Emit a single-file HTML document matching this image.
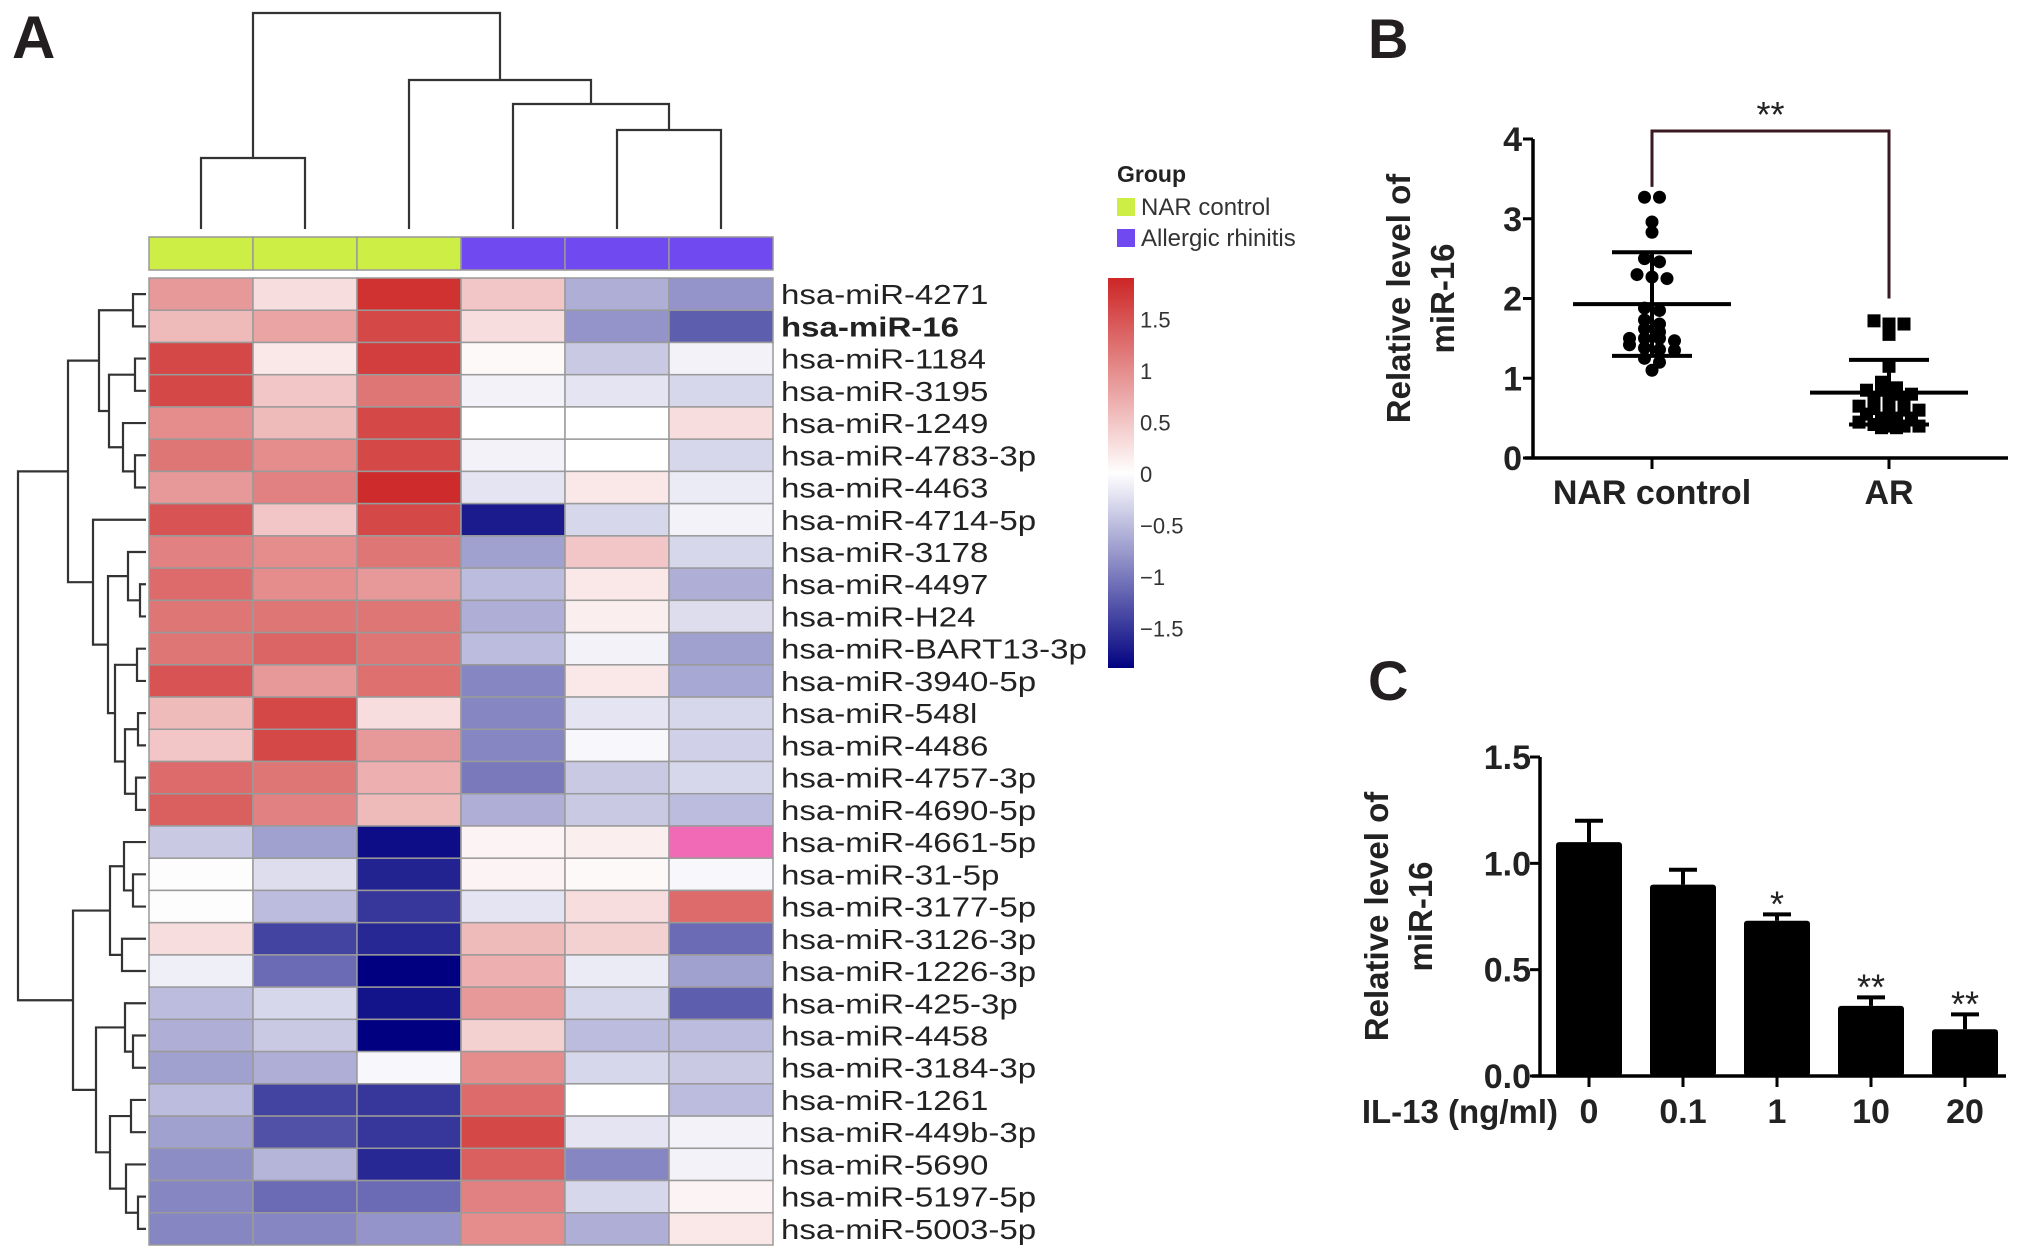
<!DOCTYPE html>
<html><head><meta charset="utf-8"><style>
html,body{margin:0;padding:0;background:#fff;}
svg{display:block;font-family:"Liberation Sans",Arial,sans-serif;}
</style></head><body>
<svg id="fig" width="2031" height="1259" viewBox="0 0 2031 1259" xmlns="http://www.w3.org/2000/svg">
<g id="gA"></g>
<g id="gB"></g>
<g id="gC"></g>
</svg>
<script>
// ---------- Panel A data ----------
const rowLabels = ["hsa-miR-4271","hsa-miR-16","hsa-miR-1184","hsa-miR-3195","hsa-miR-1249","hsa-miR-4783-3p","hsa-miR-4463","hsa-miR-4714-5p","hsa-miR-3178","hsa-miR-4497","hsa-miR-H24","hsa-miR-BART13-3p","hsa-miR-3940-5p","hsa-miR-548l","hsa-miR-4486","hsa-miR-4757-3p","hsa-miR-4690-5p","hsa-miR-4661-5p","hsa-miR-31-5p","hsa-miR-3177-5p","hsa-miR-3126-3p","hsa-miR-1226-3p","hsa-miR-425-3p","hsa-miR-4458","hsa-miR-3184-3p","hsa-miR-1261","hsa-miR-449b-3p","hsa-miR-5690","hsa-miR-5197-5p","hsa-miR-5003-5p"];
const sampleGroups = ["NAR","NAR","NAR","AR","AR","AR"];
const heatValues = [
[0.9,0.3,1.8,0.5,-0.6,-0.8],
[0.6,0.8,1.6,0.3,-0.8,-1.2],
[1.6,0.2,1.7,0.05,-0.4,-0.1],
[1.6,0.5,1.2,-0.1,-0.2,-0.3],
[1.0,0.6,1.6,0.0,0.0,0.3],
[1.2,1.0,1.6,-0.1,0.0,-0.3],
[0.9,1.1,1.85,-0.2,0.2,-0.15],
[1.5,0.5,1.6,-1.7,-0.3,-0.1],
[1.1,1.0,1.2,-0.7,0.5,-0.3],
[1.3,1.0,0.9,-0.5,0.2,-0.6],
[1.2,1.2,1.2,-0.6,0.15,-0.25],
[1.2,1.35,1.2,-0.5,-0.1,-0.7],
[1.5,0.9,1.25,-0.9,0.2,-0.65],
[0.6,1.6,0.3,-0.9,-0.2,-0.3],
[0.5,1.6,0.9,-0.9,-0.05,-0.35],
[1.3,1.2,0.7,-1.0,-0.4,-0.3],
[1.4,1.1,0.6,-0.6,-0.4,-0.5],
[-0.4,-0.7,-1.8,0.1,0.15,2.5],
[0.02,-0.25,-1.65,0.1,0.05,-0.05],
[0.02,-0.5,-1.5,-0.2,0.3,1.3],
[0.3,-1.4,-1.6,0.6,0.4,-1.1],
[-0.12,-1.1,-1.9,0.7,-0.15,-0.7],
[-0.5,-0.3,-1.75,0.9,-0.3,-1.2],
[-0.6,-0.4,-1.9,0.4,-0.5,-0.5],
[-0.7,-0.6,-0.05,1.0,-0.3,-0.4],
[-0.5,-1.4,-1.5,1.3,0.0,-0.5],
[-0.7,-1.3,-1.5,1.6,-0.2,-0.1],
[-0.85,-0.55,-1.6,1.4,-0.9,-0.1],
[-0.9,-1.1,-1.1,1.1,-0.3,0.1],
[-0.9,-0.9,-0.8,1.0,-0.6,0.2]];
const scaleTicks = [1.5,1,0.5,0,-0.5,-1,-1.5];
const scaleTickLabels = ["1.5","1","0.5","0","\u22120.5","\u22121","\u22121.5"];

// ---------- Panel B data ----------
const groupsB = ["NAR control","AR"];
const narValues = [3.27,3.27,2.96,2.83,2.5,2.46,2.3,2.25,2.27,1.88,1.85,1.73,1.68,1.62,1.5,1.5,1.5,1.47,1.42,1.38,1.36,1.35,1.25,1.2,1.1,1.58];
const arValues = [1.68,1.68,1.72,1.55,1.15,0.95,0.88,0.85,0.85,0.8,0.8,0.75,0.72,0.72,0.65,0.62,0.62,0.6,0.6,0.55,0.5,0.5,0.5,0.45,0.42,0.4,0.4,0.4,0.38,0.38];
const meanB = [1.93,0.82];
const sdUpperB = [2.58,1.23];
const sdLowerB = [1.28,0.42];
const yTicksB = [0,1,2,3,4];

// ---------- Panel C data ----------
const doseLabels = ["0","0.1","1","10","20"];
const barValues = [1.1,0.9,0.73,0.33,0.22];
const errValues = [0.1,0.07,0.03,0.04,0.07];
const sigLabels = ["","","*","**","**"];
const yTicksC = [0,0.5,1.0,1.5];
const yTickLabelsC = ["0.0","0.5","1.0","1.5"];

const NS="http://www.w3.org/2000/svg";
function mk(parent,tag,attrs,text){const e=document.createElementNS(NS,tag);for(const k in attrs)e.setAttribute(k,attrs[k]);if(text!==undefined)e.textContent=text;parent.appendChild(e);return e;}

// ================= Panel A =================
const gA=document.getElementById('gA');
const hmX0=149,hmX1=773,hmY0=278,hmY1=1245;
const colW=(hmX1-hmX0)/sampleGroups.length, rowH=(hmY1-hmY0)/rowLabels.length;
function colX(j){return hmX0+j*colW;}
function rowY(i){return hmY0+i*rowH;}
function lerp(a,b,t){return Math.round(a+(b-a)*t);}
function heatColor(v){
  if(v>1.95) return "#f06ab6";
  const m=1.9;let t=Math.max(-1,Math.min(1,v/m));
  if(t>=0) return `rgb(${lerp(255,205,t)},${lerp(255,38,t)},${lerp(255,38,t)})`;
  t=-t;return `rgb(${lerp(255,0,t)},${lerp(255,0,t)},${lerp(255,128,t)})`;
}
let t=mk(gA,'text',{x:12,y:58,'font-size':60,'font-weight':'bold',fill:'#231f20'},'A');



sampleGroups.forEach((g,j)=>{
  const r=mk(gA,'rect',{x:colX(j),y:237,width:colW,height:33,fill:g==="NAR"?"#cdef45":"#7049f0",stroke:'#999',"stroke-width":1.5});
  
  
});
heatValues.forEach((row,i)=>row.forEach((v,j)=>{
  const r=mk(gA,'rect',{x:colX(j),y:rowY(i),width:colW,height:rowH,fill:heatColor(v),stroke:'#9a9a9a',"stroke-width":1.5});
  
  
}));
rowLabels.forEach((lab,i)=>{
  const e=mk(gA,'text',{transform:`translate(781,${rowY(i)+rowH/2+10}) scale(1.18,1)`,'font-size':28,fill:'#222','font-weight':lab==="hsa-miR-16"?'bold':'normal'},lab);
  
  
});
const topTree={l:{l:0,r:1,y:158},r:{l:2,r:{l:3,r:{l:4,r:5,y:130},y:104},y:80},y:13};
const leafTop=229;
function drawTop(n){
  if(typeof n==="number") return {x:colX(n)+colW/2,y:leafTop};
  const a=drawTop(n.l),b=drawTop(n.r);
  const p=mk(gA,'path',{d:`M${a.x},${a.y}V${n.y}H${b.x}V${b.y}`,fill:'none',stroke:'#333','stroke-width':2.2});
  
  
  return {x:(a.x+b.x)/2,y:n.y};
}
drawTop(topTree);
const clusterA={l:{l:0,r:1,x:133},r:{l:{l:2,r:3,x:135},r:{l:4,r:{l:5,r:6,x:135},x:123},x:109},x:99};
const clusterB={l:7,r:{l:{l:8,r:{l:9,r:10,x:140},x:128},r:{l:{l:11,r:12,x:137},r:{l:{l:13,r:14,x:138},r:{l:15,r:16,x:136},x:125},x:115},x:108},x:93};
const clusterC={l:{l:{l:17,r:{l:18,r:19,x:133},x:124},r:{l:20,r:21,x:122},x:110},r:{l:{l:22,r:{l:23,r:24,x:133},x:125},r:{l:{l:25,r:26,x:131},r:{l:27,r:{l:28,r:29,x:138},x:126},x:110},x:96},x:73};
const rowTree={l:{l:clusterA,r:clusterB,x:68},r:clusterC,x:18};
function drawRow(n){
  if(typeof n==="number") return {x:146,y:rowY(n)+rowH/2};
  const a=drawRow(n.l),b=drawRow(n.r);
  const p=mk(gA,'path',{d:`M${a.x},${a.y}H${n.x}V${b.y}H${b.x}`,fill:'none',stroke:'#333','stroke-width':2.2});
  
  
  return {x:n.x,y:(a.y+b.y)/2};
}
drawRow(rowTree);
t=mk(gA,'text',{x:1117,y:182,'font-size':23,'font-weight':'bold',fill:'#222'},'Group');


[["NAR control","#cdef45",198],["Allergic rhinitis","#7049f0",229]].forEach(([lab,c,y])=>{
  const r=mk(gA,'rect',{x:1117,y:y,width:18,height:18,fill:c});
  
  
  const e=mk(gA,'text',{x:1141,y:y+17,'font-size':24,fill:'#333'},lab);
  
  
});
const csTop=278,csBot=668,csZero=474,csUnit=103;
const defs=mk(gA,'defs',{});
const lg=mk(defs,'linearGradient',{id:'cs',x1:0,y1:0,x2:0,y2:1});
for(let k=0;k<=20;k++){const y=csTop+(csBot-csTop)*k/20;const v=(csZero-y)/csUnit;mk(lg,'stop',{offset:k/20,'stop-color':heatColor(Math.max(-1.9,Math.min(1.9,v)))});}
const cs=mk(gA,'rect',{x:1108,y:csTop,width:26,height:csBot-csTop,fill:'url(#cs)'});


scaleTicks.forEach((v,k)=>{
  const e=mk(gA,'text',{x:1140,y:csZero-v*csUnit+8,'font-size':22,fill:'#333'},scaleTickLabels[k]);
  
  
});

// ================= Panel B =================
const gB=document.getElementById('gB');
const bAxX=1533,bY0=458,bY4=139,bXEnd=2008;
function yB(v){return bY0-(bY0-bY4)*v/4;}
const bCenters=[1652,1889];
t=mk(gB,'text',{x:1368,y:58,'font-size':56,'font-weight':'bold',fill:'#231f20'},'B');


let ax=mk(gB,'path',{d:`M${bAxX},${bY4}V${bY0}M${bAxX-8},${bY0}H${bXEnd}`,stroke:'#000','stroke-width':3.5,fill:'none'});


yTicksB.forEach(v=>{
  mk(gB,'line',{x1:bAxX-10,x2:bAxX,y1:yB(v),y2:yB(v),stroke:'#000','stroke-width':3});
  const e=mk(gB,'text',{x:bAxX-11,y:yB(v)+12,'font-size':34,'font-weight':'bold','text-anchor':'end',fill:'#222'},String(v));
  
  
});
groupsB.forEach((g,k)=>{
  mk(gB,'line',{x1:bCenters[k],x2:bCenters[k],y1:bY0,y2:bY0+11,stroke:'#000','stroke-width':3});
  const e=mk(gB,'text',{x:bCenters[k],y:504,'font-size':34,'font-weight':'bold','text-anchor':'middle',fill:'#222'},g);
  
  
});
t=mk(gB,'text',{transform:`translate(1410,${(bY0+bY4)/2}) rotate(-90)`,'font-size':33,'font-weight':'bold','text-anchor':'middle',fill:'#222','xml:space':'preserve'},'Relative  level of');


t=mk(gB,'text',{transform:`translate(1454,${(bY0+bY4)/2}) rotate(-90)`,'font-size':33,'font-weight':'bold','text-anchor':'middle',fill:'#222'},'miR-16');


function swarm(vals,cx,shape){
  const sorted=vals.slice().sort((a,b)=>b-a);const rows=[];
  sorted.forEach(v=>{const last=rows[rows.length-1];if(last&&Math.abs(last.v-v)<0.07)last.items.push(v);else rows.push({v:v,items:[v]});});
  rows.forEach(r=>{const n=r.items.length;r.items.forEach((v,i)=>{
    const x=cx+(i-(n-1)/2)*15;
    let m;
    if(shape==="circle") m=mk(gB,'circle',{cx:x,cy:yB(v),r:6.5,fill:'#000'});
    else m=mk(gB,'rect',{x:x-6.5,y:yB(v)-6.5,width:13,height:13,fill:'#000'});
    
    
  });});
}
swarm(narValues,bCenters[0],"circle");
swarm(arValues,bCenters[1],"square");
bCenters.forEach((cx,k)=>{
  const p=mk(gB,'path',{d:`M${cx-79},${yB(meanB[k])}H${cx+79}M${cx},${yB(sdUpperB[k])}V${yB(sdLowerB[k])}M${cx-40},${yB(sdUpperB[k])}H${cx+40}M${cx-40},${yB(sdLowerB[k])}H${cx+40}`,stroke:'#000','stroke-width':4,fill:'none'});
  
  
});
const br=mk(gB,'path',{d:`M${bCenters[0]},${yB(3.4)}V${yB(4.1)}H${bCenters[1]}V${yB(2)}`,stroke:'#3a1a22','stroke-width':3,fill:'none'});


t=mk(gB,'text',{x:(bCenters[0]+bCenters[1])/2,y:yB(4.1)-4,'font-size':36,'text-anchor':'middle',fill:'#222'},'**');



// ================= Panel C =================
const gC=document.getElementById('gC');
const cAxX=1540,cY0=1076,cYTop=757,cXEnd=2006;
function yC(v){return cY0-(cY0-cYTop)*v/1.5;}
function xC(i){return 1589+i*94;}
t=mk(gC,'text',{x:1368,y:700,'font-size':56,'font-weight':'bold',fill:'#231f20'},'C');


barValues.forEach((v,i)=>{
  const b=mk(gC,'rect',{x:xC(i)-33,y:yC(v),width:66,height:cY0-yC(v),fill:'#000',rx:3});
  
  
  const top=yC(v+errValues[i]);
  const e=mk(gC,'path',{d:`M${xC(i)},${yC(v)}V${top}M${xC(i)-14},${top}H${xC(i)+14}`,stroke:'#000','stroke-width':4,fill:'none'});
  
  
  if(sigLabels[i]){
    const s=mk(gC,'text',{x:xC(i),y:top+2,'font-size':36,'text-anchor':'middle',fill:'#222'},sigLabels[i]);
    
    
  }
  mk(gC,'line',{x1:xC(i),x2:xC(i),y1:cY0,y2:cY0+11,stroke:'#000','stroke-width':3});
  const l=mk(gC,'text',{x:xC(i),y:1123,'font-size':34,'font-weight':'bold','text-anchor':'middle',fill:'#222'},doseLabels[i]);
  
  
});
ax=mk(gC,'path',{d:`M${cAxX},${cYTop}V${cY0}M${cAxX-8},${cY0}H${cXEnd}`,stroke:'#000','stroke-width':3.5,fill:'none'});


yTicksC.forEach((v,k)=>{
  mk(gC,'line',{x1:cAxX-10,x2:cAxX,y1:yC(v),y2:yC(v),stroke:'#000','stroke-width':3});
  const e=mk(gC,'text',{x:cAxX-9,y:yC(v)+12,'font-size':34,'font-weight':'bold','text-anchor':'end',fill:'#222'},yTickLabelsC[k]);
  
  
});
t=mk(gC,'text',{x:1558,y:1123,'font-size':33,'font-weight':'bold','text-anchor':'end',fill:'#222'},'IL-13 (ng/ml)');


t=mk(gC,'text',{transform:`translate(1388,${(cY0+cYTop)/2}) rotate(-90)`,'font-size':33,'font-weight':'bold','text-anchor':'middle',fill:'#222','xml:space':'preserve'},'Relative  level of');


t=mk(gC,'text',{transform:`translate(1432,${(cY0+cYTop)/2}) rotate(-90)`,'font-size':33,'font-weight':'bold','text-anchor':'middle',fill:'#222'},'miR-16');


</script>
</body></html>
